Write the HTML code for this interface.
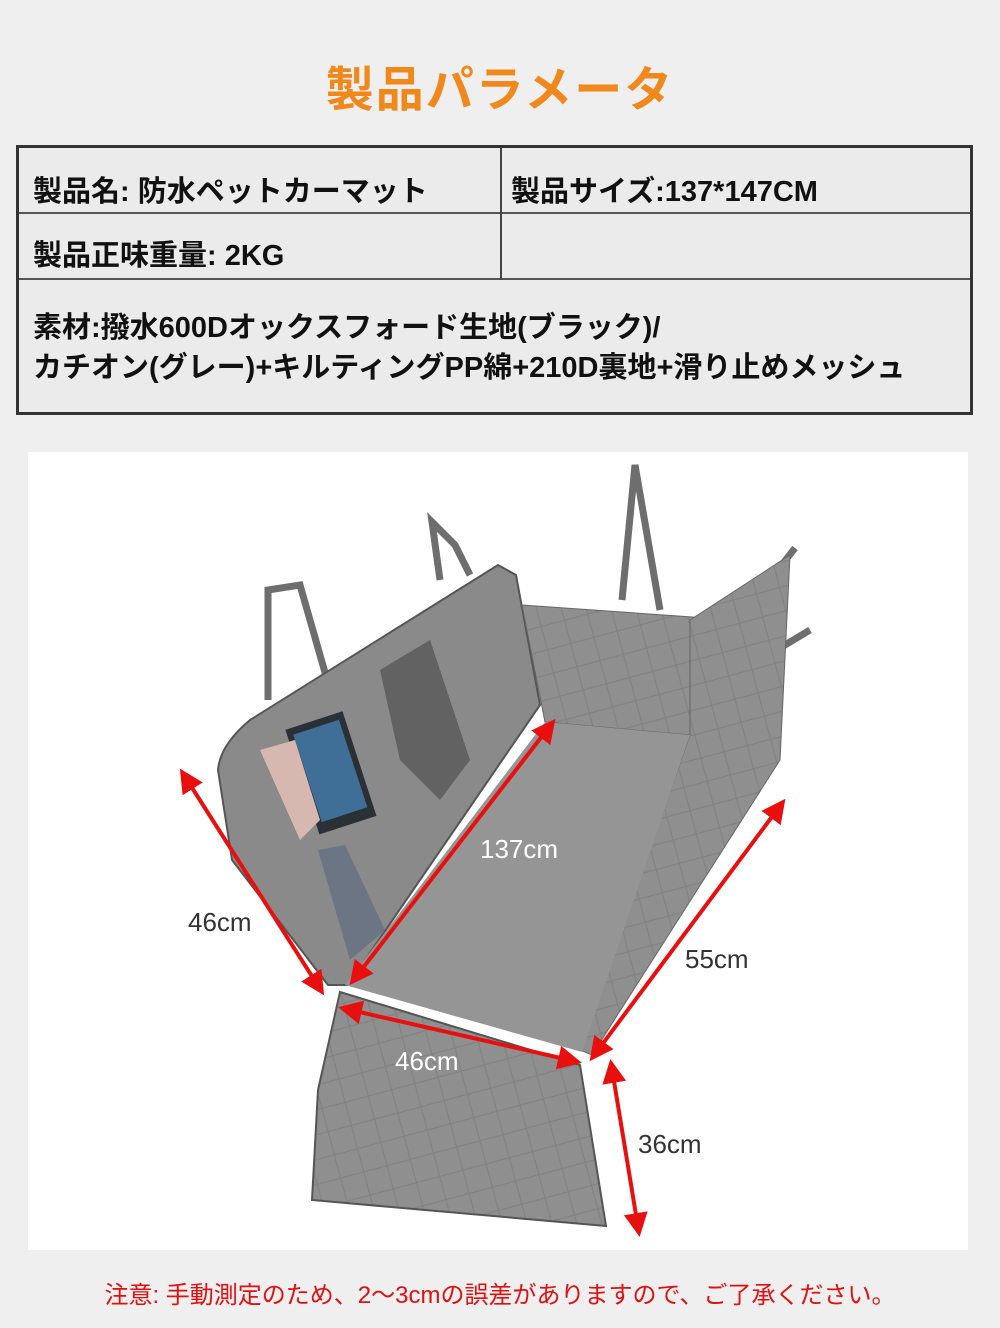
<!DOCTYPE html>
<html><head><meta charset="utf-8">
<style>
body{margin:0;width:1000px;height:1328px;background:#efefef;position:relative;overflow:hidden;font-family:"Liberation Sans","Noto Sans CJK JP",sans-serif;}
.title{position:absolute;left:0;width:1000px;top:50px;text-align:center;font-size:48px;font-weight:bold;color:#f0881c;letter-spacing:2px;}
.tbl{position:absolute;left:16px;top:145px;width:951px;height:264px;border:3px solid #333;background:#ebebeb;}
.h{position:absolute;background:#555;height:2px;left:0;width:951px;}
.v{position:absolute;background:#444;width:2px;left:481px;top:0;height:132px;}
.t{position:absolute;font-size:29px;font-weight:bold;color:#111;white-space:nowrap;}
.img{position:absolute;left:28px;top:452px;width:940px;height:798px;background:#fff;}
.foot{position:absolute;left:0;width:1000px;top:1275px;text-align:center;font-size:24px;color:#e01010;}
</style></head><body>
<div class="title">製品パラメータ</div>
<div class="tbl">
<div class="h" style="top:64px"></div>
<div class="h" style="top:130px"></div>
<div class="v"></div>
<div class="t" style="left:14px;top:20px">製品名: 防水ペットカーマット</div>
<div class="t" style="left:492px;top:20px">製品サイズ:137*147CM</div>
<div class="t" style="left:14px;top:84px">製品正味重量: 2KG</div>
<div class="t" style="left:14px;top:156px">素材:撥水600Dオックスフォード生地(ブラック)/</div>
<div class="t" style="left:14px;top:196px">カチオン(グレー)+キルティングPP綿+210D裏地+滑り止めメッシュ</div>
</div>
<div class="img"></div>
<svg width="1000" height="1328" style="position:absolute;left:0;top:0">
<defs>
<pattern id="q" width="34" height="34" patternUnits="userSpaceOnUse" patternTransform="rotate(30)">
<rect width="34" height="34" fill="#8f8f8f"/><path d="M0 0L34 34M34 0L0 34" stroke="#828282" stroke-width="1.2"/></pattern>
<marker id="a" markerWidth="6" markerHeight="6" refX="5" refY="3" orient="auto-start-reverse" markerUnits="strokeWidth"><path d="M0 0L6 3L0 6z" fill="#e8100f"/></marker>
</defs>
<g stroke="#6e6e6e" stroke-width="7" fill="none">
<path d="M268 700L268 590L300 585L330 690"/>
<path d="M440 580L432 522L455 545L470 575"/>
<path d="M622 600L635 465L660 610"/>
<path d="M770 580L795 548"/><path d="M760 660L810 630"/>
</g>
<path d="M218 770Q220 745 250 720L498 565L516 575L540 705L348 985L328 985L232 860Z" fill="#8a8a8a" stroke="#555" stroke-width="2"/>
<path d="M380 670L430 640L470 760L440 800L400 760Z" fill="#626262"/>
<rect x="300" y="718" width="60" height="110" fill="#2b2f36" transform="rotate(-18 330 770)"/>
<rect x="306" y="725" width="48" height="92" fill="#3f6f96" transform="rotate(-18 330 770)"/>
<path d="M260 750L295 740L320 820L300 840Z" fill="#d7b8b0"/>
<path d="M318 850L345 845L385 930L350 960Z" fill="#6b7583"/>
<path d="M522 605L735 620L690 735L545 722Z" fill="url(#q)" stroke="#666"/>
<path d="M690 620L790 555L780 760L592 1055L580 1050L690 735Z" fill="url(#q)" stroke="#666"/>
<path d="M345 985L545 722L690 735L582 1052Z" fill="#959595"/>
<path d="M340 992L580 1065L606 1226L312 1200L318 1090Z" fill="url(#q)" stroke="#555" stroke-width="2"/>
<g stroke="#e8100f" stroke-width="4" fill="none" marker-start="url(#a)" marker-end="url(#a)">
<line x1="182" y1="772" x2="322" y2="992"/>
<line x1="553" y1="722" x2="352" y2="982"/>
<line x1="783" y1="802" x2="592" y2="1058"/>
<line x1="342" y1="1008" x2="578" y2="1062"/>
<line x1="611" y1="1063" x2="639" y2="1233"/>
</g>
<g font-family="Liberation Sans,sans-serif" font-size="26">
<text x="188" y="931" fill="#333">46cm</text>
<text x="480" y="858" fill="#fff">137cm</text>
<text x="685" y="968" fill="#333">55cm</text>
<text x="395" y="1070" fill="#fff">46cm</text>
<text x="638" y="1153" fill="#333">36cm</text>
</g>
</svg>
<div class="foot">注意: 手動測定のため、2～3cmの誤差がありますので、ご了承ください。</div>
</body></html>
